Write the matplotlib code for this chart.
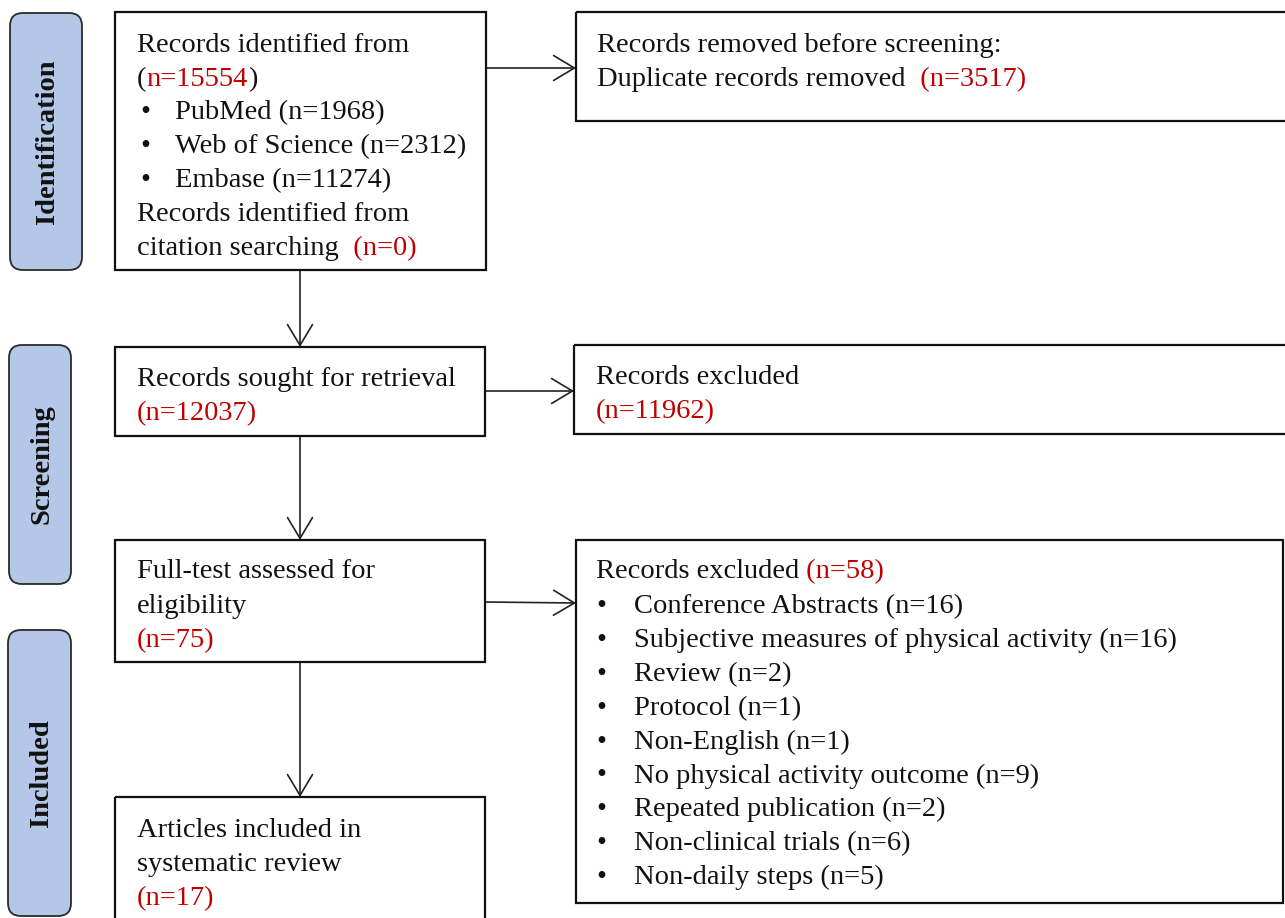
import matplotlib
matplotlib.use("Agg")
import matplotlib.pyplot as plt
from matplotlib.patches import Rectangle, FancyBboxPatch

# ---- data ----
stages = ["Identification", "Screening", "Included"]
n_total = 15554
databases = ["PubMed", "Web of Science", "Embase"]
database_counts = [1968, 2312, 11274]
n_citation = 0
n_duplicates = 3517
n_sought = 12037
n_excluded_screen = 11962
n_fulltext = 75
n_excluded_full = 58
exclusion_reasons = ["Conference Abstracts", "Subjective measures of physical activity",
                     "Review", "Protocol", "Non-English", "No physical activity outcome",
                     "Repeated publication", "Non-clinical trials", "Non-daily steps"]
exclusion_counts = [16, 16, 2, 1, 1, 9, 2, 6, 5]
n_included = 17

RED = "#C00000"
BLK = "#111111"
FONT = "Liberation Serif"
FS = 20.5
DY = 3.5

W, H = 1285, 918
fig = plt.figure(figsize=(W / 100, H / 100), dpi=100)
ax = fig.add_axes([0, 0, 1, 1])
ax.set_xlim(0, W)
ax.set_ylim(H, 0)
ax.axis("off")
renderer = fig.canvas.get_renderer()


def box(x0, y0, x1, y1):
    ax.add_patch(Rectangle((x0, y0), x1 - x0, y1 - y0, fill=False,
                           ec=BLK, lw=1.6, zorder=2))


def side(x0, y0, x1, y1, label):
    ax.add_patch(FancyBboxPatch((x0, y0), x1 - x0, y1 - y0,
                                boxstyle="round,pad=0,rounding_size=13",
                                fc="#B4C7E7", ec="#2a2a2a", lw=1.3, zorder=2))
    ax.text((x0 + x1) / 2 + 2, (y0 + y1) / 2, label, rotation=90, ha="center",
            va="center", fontsize=FS, fontweight="bold", family=FONT,
            color=BLK, zorder=3)


def segs(x, y, parts, fs=FS):
    inv = ax.transData.inverted()
    for txt, col in parts:
        t = ax.text(x, y + DY, txt, ha="left", va="center", fontsize=fs,
                    family=FONT, color=col, zorder=3)
        bb = t.get_window_extent(renderer=renderer)
        x = inv.transform((bb.x1, bb.y0))[0]


def bullet(xb, xt, y, parts):
    ax.text(xb, y + DY, "\u2022", ha="left", va="center", fontsize=FS,
            family=FONT, color=BLK, zorder=3)
    segs(xt, y, parts)


def arrow(x0, y0, x1, y1):
    ax.annotate("", xy=(x1, y1), xytext=(x0, y0),
                arrowprops=dict(arrowstyle="->,head_length=0.75,head_width=0.45",
                                color="#222222", lw=1.2, shrinkA=0, shrinkB=0,
                                mutation_scale=20), zorder=1)


# side stage labels
side(10, 13, 82, 270, stages[0])
side(9, 345, 71, 584, stages[1])
side(8, 630, 71, 916, stages[2])

# main boxes
box(115, 12, 486, 270)
box(576, 12, 1290, 121)
box(115, 347, 485, 436)
box(574, 345, 1290, 434)
box(115, 540, 485, 662)
box(576, 540, 1283, 903)
box(115, 797, 485, 920)

# arrows
arrow(486, 68, 576, 68)
arrow(300, 270, 300, 347)
arrow(485, 391, 574, 391)
arrow(300, 436, 300, 540)
arrow(485, 602, 576, 603)
arrow(300, 662, 300, 797)

# box 1 text
lx = 137
segs(lx, 42, [("Records identified from", BLK)])
segs(lx, 76, [("(", BLK), ("n=%d" % n_total, RED), (")", BLK)])
for i, (db, c) in enumerate(zip(databases, database_counts)):
    bullet(lx + 3, 175, 109 + i * 34, [("%s (n=%d)" % (db, c), BLK)])
segs(lx, 211, [("Records identified from", BLK)])
segs(lx, 245, [("citation searching", BLK), ("  (n=%d)" % n_citation, RED)])

# removed box
segs(597, 42, [("Records removed before screening:", BLK)])
segs(597, 76, [("Duplicate records removed", BLK), ("  (n=%d)" % n_duplicates, RED)])

# box 2
segs(lx, 376, [("Records sought for retrieval", BLK)])
segs(lx, 410, [("(n=%d)" % n_sought, RED)])

# excluded box 1
segs(596, 374, [("Records excluded", BLK)])
segs(596, 408, [("(n=%d)" % n_excluded_screen, RED)])

# box 3
segs(lx, 568, [("Full-test assessed for", BLK)])
segs(lx, 603, [("eligibility", BLK)])
segs(lx, 637, [("(n=%d)" % n_fulltext, RED)])

# excluded box 2
segs(596, 568, [("Records excluded", BLK), (" (n=%d)" % n_excluded_full, RED)])
for i, (r, c) in enumerate(zip(exclusion_reasons, exclusion_counts)):
    bullet(596, 634, 603 + i * 33.9, [("%s (n=%d)" % (r, c), BLK)])

# box 4
segs(lx, 827, [("Articles included in", BLK)])
segs(lx, 861, [("systematic review", BLK)])
segs(lx, 895, [("(n=%d)" % n_included, RED)])

fig.savefig("out.png", dpi=100, facecolor="white")
